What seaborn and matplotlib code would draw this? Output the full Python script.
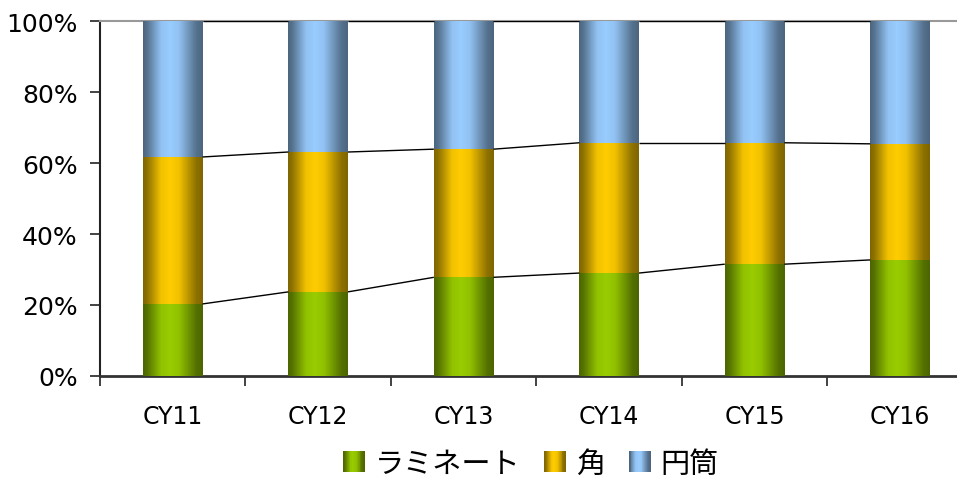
import numpy as np
import pandas as pd
import matplotlib
matplotlib.use("Agg")
import matplotlib.pyplot as plt
import seaborn as sns
from matplotlib.legend_handler import HandlerBase
from matplotlib.patches import Rectangle

# ---- data ----
years = ["CY11", "CY12", "CY13", "CY14", "CY15", "CY16"]
laminate = [20.3, 23.7, 27.8, 29.0, 31.5, 32.7]
kaku = [41.4, 39.4, 36.1, 36.7, 34.2, 32.7]
entou = [38.3, 36.9, 36.1, 34.3, 34.3, 34.6]
series_names = ["ラミネート", "角", "円筒"]
series_colors = ["#99CC00", "#FFCC00", "#99CCFF"]
yticks = [0, 20, 40, 60, 80, 100]

sns.set_theme(style="white")
plt.rcParams["font.family"] = ["DejaVu Sans", "Noto Sans CJK JP"]
plt.rcParams["text.color"] = "black"
plt.rcParams["xtick.color"] = "black"
plt.rcParams["ytick.color"] = "black"

fig = plt.figure(figsize=(9.57, 4.85), dpi=100)
ax = fig.add_axes([0.1045, 0.2227, 0.912, 0.7319])

df = pd.DataFrame({"year": years, "ラミネート": laminate, "角": kaku, "円筒": entou})
cum1 = df["ラミネート"]
cum2 = cum1 + df["角"]
cum3 = cum2 + df["円筒"]
cums = [cum1.values, cum2.values, cum3.values]

BAR_W = 0.41

# profile of brightness across a bar (cylinder-like shading)
prof_t = [0.0, 0.06, 0.3, 0.45, 0.6, 0.75, 0.9, 1.0]
prof_f = [0.5, 0.55, 0.95, 1.0, 0.95, 0.75, 0.55, 0.5]


def gradient(hexcol, n=80):
    base = np.array(matplotlib.colors.to_rgb(hexcol))
    t = np.linspace(0, 1, n)
    f = np.interp(t, prof_t, prof_f)
    return np.clip(base[None, :] * f[:, None], 0, 1)


# draw cumulative bars, tallest first
order = [2, 1, 0]
patch_groups = {}
for k in order:
    before = len(ax.patches)
    sns.barplot(x=df["year"], y=cums[k], color=series_colors[k], width=BAR_W,
                ax=ax, saturation=1, zorder=2)
    patch_groups[k] = ax.patches[before:]

# overlay gradients within each bar segment
for k in [2, 1, 0]:
    g = gradient(series_colors[k])[None, :, :]
    for i, p in enumerate(patch_groups[k]):
        x0 = p.get_x()
        x1 = x0 + p.get_width()
        lo = 0 if k == 0 else cums[k - 1][i]
        hi = cums[k][i]
        ax.imshow(g, extent=[x0, x1, lo, hi], aspect="auto", zorder=3 + k * 0.1,
                  interpolation="bilinear")
        p.set_visible(False)

# series lines
for k in range(3):
    for i in range(len(years) - 1):
        ax.plot([i + BAR_W / 2, i + 1 - BAR_W / 2], [cums[k][i], cums[k][i + 1]],
                color="black", lw=1.0, zorder=4, solid_capstyle="butt")

ax.set_xlim(-0.5, len(years) - 0.5)
ax.set_ylim(0, 100)
ax.set_yticks(yticks)
ax.set_yticklabels([f"{v}%" for v in yticks])
ax.set_xticks(range(len(years)))
ax.set_xticklabels(years)
ax.set_xticks(np.arange(-0.5, len(years) + 0.5, 1), minor=True)
ax.set_xlabel("")
ax.set_ylabel("")

ax.tick_params(axis="y", which="major", direction="out", length=7, width=1.2,
               color="#222222", labelsize=18, pad=9, left=True, labelcolor="black")
ax.tick_params(axis="x", which="major", length=0, labelsize=17, pad=20,
               labelcolor="black")
ax.tick_params(axis="x", which="minor", direction="out", length=7, width=1.2,
               color="#222222", bottom=True)

for s in ["right"]:
    ax.spines[s].set_visible(False)
ax.spines["top"].set_color("#999999")
ax.spines["top"].set_linewidth(1.5)
ax.spines["left"].set_color("#222222")
ax.spines["left"].set_linewidth(1.5)
ax.spines["bottom"].set_color("#333333")
ax.spines["bottom"].set_linewidth(2.0)
ax.grid(False)


# legend with gradient squares
class GradProxy:
    def __init__(self, colors):
        self.colors = colors


class GradHandler(HandlerBase):
    def create_artists(self, legend, orig_handle, xdescent, ydescent, width,
                       height, fontsize, trans):
        cols = orig_handle.colors
        n = len(cols)
        x0, y0 = -xdescent, -ydescent
        arts = []
        for j, c in enumerate(cols):
            r = Rectangle((x0 + j * width / n, y0), width / n * 1.3, height,
                          facecolor=c, edgecolor="none", transform=trans)
            arts.append(r)
        return arts


handles = [GradProxy(gradient(c, 24)) for c in series_colors]
leg = fig.legend(handles, series_names, handler_map={GradProxy: GradHandler()},
                 loc="center", bbox_to_anchor=(0.555, 0.042), ncol=3, frameon=False,
                 handlelength=0.75, handleheight=0.75, handletextpad=0.35,
                 columnspacing=0.8, prop={"family": ["Noto Sans CJK JP"], "size": 21})
for t in leg.get_texts():
    t.set_color("black")

fig.savefig("out.png", dpi=100)
